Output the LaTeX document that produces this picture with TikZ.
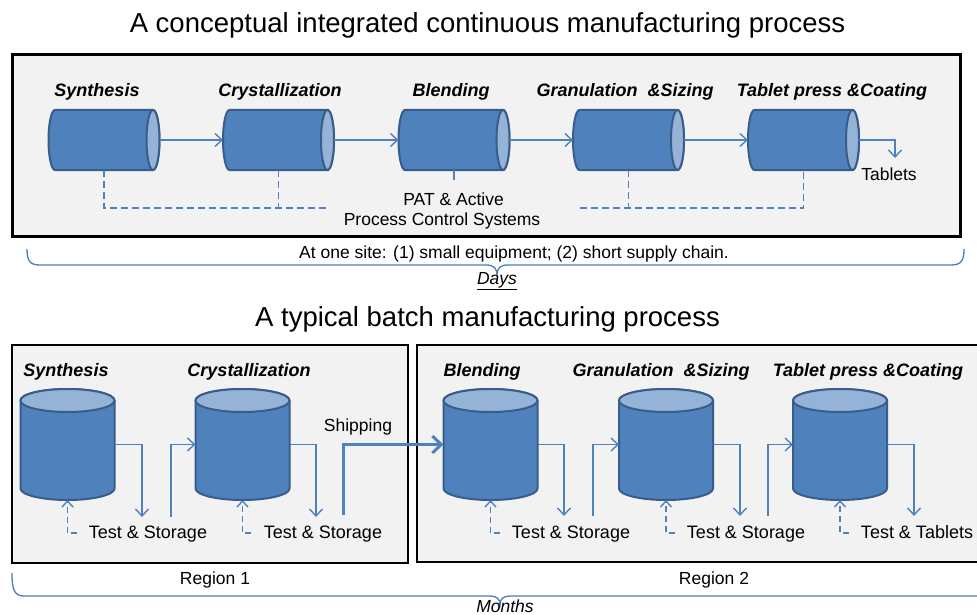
\documentclass[tikz,border=0pt]{standalone}
\usepackage{fontspec}
\setmainfont{Liberation Sans}
\usetikzlibrary{arrows.meta}
\definecolor{cylbody}{HTML}{4F81BD}
\definecolor{cylline}{HTML}{385D8A}
\definecolor{cylface}{HTML}{95B3D7}
\definecolor{flowc}{HTML}{4F81BD}
\definecolor{bracec}{HTML}{4A7EBB}
\definecolor{boxfill}{HTML}{F2F2F2}
\tikzset{
  cylbox/.style={inner sep=0pt, outer sep=0pt, minimum width=#1},
  cylbody/.style={fill=cylbody, draw=cylline, line width=2pt, line join=round},
  cylface/.style={fill=cylface, draw=cylline, line width=2pt},
  flow/.style={draw=flowc, line width=1.4pt, -{Straight Barb[length=7pt,width=13pt,line width=1.4pt]}},
  plainline/.style={draw=flowc, line width=1.4pt},
  dline/.style={draw=flowc, line width=1.4pt, dash pattern=on 7pt off 4pt},
  dflow/.style={draw=flowc, line width=1.4pt, dash pattern=on 6pt off 4pt, -{Straight Barb[length=6pt,width=11pt,line width=1.4pt]}},
  ship/.style={draw=flowc, line width=3pt, -{Straight Barb[length=9pt,width=17pt,line width=3pt]}},
  brace/.style={draw=bracec, line width=1.3pt},
  lab/.style={font=\fontsize{18}{22}\selectfont\bfseries\itshape, inner sep=0pt},
  txt/.style={font=\fontsize{18}{22}\selectfont, inner sep=0pt},
  stxt/.style={font=\fontsize{17.5}{21}\selectfont, inner sep=0pt},
  title/.style={font=\fontsize{27.5}{32}\selectfont, inner sep=0pt},
}
\newcommand\hcyl[3]{%
  \node[cylbox=111pt, minimum height=60pt] (#1) at (#2,#3) {};
  \path[cylbody] ([xshift=6.5pt]#1.north west) -- ([xshift=-6.5pt]#1.north east)
     arc[start angle=90,end angle=-90,x radius=6.5pt,y radius=30pt]
     -- ([xshift=6.5pt]#1.south west)
     arc[start angle=270,end angle=90,x radius=6.5pt,y radius=30pt] -- cycle;
  \path[cylface] ([xshift=-6.5pt]#1.east) ellipse[x radius=6.5pt,y radius=30pt];
}
\newcommand\vcyl[3]{%
  \node[cylbox=94pt, minimum height=111pt] (#1) at (#2,#3) {};
  \path[cylbody] ([yshift=-11.5pt]#1.north west) -- ([yshift=11.5pt]#1.south west)
     arc[start angle=180,end angle=360,x radius=47pt,y radius=11.5pt]
     -- ([yshift=-11.5pt]#1.north east)
     arc[start angle=0,end angle=180,x radius=47pt,y radius=11.5pt] -- cycle;
  \path[cylface] ([yshift=-11.5pt]#1.north) ellipse[x radius=47pt,y radius=11.5pt];
}
\begin{document}
\begin{tikzpicture}[x=1pt,y=-1pt]
\useasboundingbox[fill=white] (0,0) rectangle (977,615);

% ---------- top: continuous ----------
\node[title] (t1) at (487.5,25) {A conceptual integrated continuous manufacturing process};
\draw[line width=3pt, fill=boxfill] (12,55) rectangle (960,236);

\node[lab] (l1) at (97,92) {Synthesis};
\node[lab] (l2) at (280,92) {Crystallization};
\node[lab] (l3) at (451,92) {Blending};
\node[lab] (l4) at (625,92) {Granulation\ \ \&Sizing};
\node[lab] (l5) at (832,92) {Tablet\ press \&Coating};

\hcyl{c1}{104}{140}
\hcyl{c2}{278.5}{140}
\hcyl{c3}{454}{140}
\hcyl{c4}{628.5}{140}
\hcyl{c5}{803.5}{140}

\draw[flow] (c1.east) -- (c2.west);
\draw[flow] (c2.east) -- (c3.west);
\draw[flow] (c3.east) -- (c4.west);
\draw[flow] (c4.east) -- (c5.west);
\coordinate (tabend) at (895,158);
\draw[flow] (c5.east) -| (tabend);
\node[stxt] (tabl) at (889,174) {Tablets};

\coordinate (pl) at (328,208);
\coordinate (pr) at (580,208);
\draw[dline] (c1.south) |- (pl);
\draw[dline] (c2.south) -- (c2.south |- pl);
\draw[dline] (pr) -| (c5.south);
\draw[dline] (c4.south) -- (c4.south |- pr);
\draw[plainline] (c3.south) -- ++(0,10);
\node[stxt] (pat1) at (453.5,199) {PAT \& Active};
\node[stxt] (pat2) at (442,221) {Process Control Systems};

% brace top
\node[stxt] (site) at (514,254) {At one site: (1) small equipment; (2) short supply chain.};
\draw[brace] (27,249) .. controls (27,261) and (30,265) .. (40,265) -- (486,265)
  .. controls (494,265) and (497,268) .. (497,276)
  .. controls (497,268) and (500,265) .. (508,265) -- (951,265)
  .. controls (961,265) and (964,261) .. (964,249);
\node[stxt] (days) at (497,281) {\itshape\underline{Days}};

% ---------- bottom: batch ----------
\node[title] (t2) at (487.5,319) {A typical batch manufacturing process};
\draw[line width=2.5pt, fill=boxfill] (12,345) rectangle (408,563);
\fill[boxfill] (417,345) rectangle (977,562);
\draw[line width=2.5pt] (977,345) -- (417,345) -- (417,562) -- (977,562);

\node[lab] (m1) at (66,372) {Synthesis};
\node[lab] (m2) at (249,372) {Crystallization};
\node[lab] (m3) at (482,372) {Blending};
\node[lab] (m4) at (661,372) {Granulation\ \ \&Sizing};
\node[lab] (m5) at (868,372) {Tablet\ press \&Coating};

\vcyl{s1}{67.5}{444.5}
\vcyl{s2}{242.5}{444.5}
\vcyl{s3}{490.5}{444.5}
\vcyl{s4}{666}{444.5}
\vcyl{s5}{840}{444.5}

\node[txt] (ts1) at (148,534) {Test \& Storage};
\node[txt] (ts2) at (323,534) {Test \& Storage};
\node[txt] (ts3) at (571,534) {Test \& Storage};
\node[txt] (ts4) at (746,534) {Test \& Storage};
\node[txt] (ts5) at (917,532) {Test \& Tablets};
\node[stxt] (shp) at (358,427) {Shipping};

\coordinate (a1) at (142,517); \coordinate (u1) at (171,517);
\coordinate (a2) at (316,517); \coordinate (u2) at (343,515);
\coordinate (a3) at (564,516); \coordinate (u3) at (593,516);
\coordinate (a4) at (740,516); \coordinate (u4) at (768,516);
\coordinate (a5) at (914,516);

\draw[flow] (s1.east) -| (a1);
\draw[flow] (u1) |- (s2.west);
\draw[flow] (s2.east) -| (a2);
\draw[ship] (u2) |- (s3.west);
\draw[flow] (s3.east) -| (a3);
\draw[flow] (u3) |- (s4.west);
\draw[flow] (s4.east) -| (a4);
\draw[flow] (u4) |- (s5.west);
\draw[flow] (s5.east) -| (a5);

\coordinate (d1) at (77,533);
\coordinate (d2) at (251,533);
\coordinate (d3) at (500,533);
\coordinate (d4) at (675,533);
\coordinate (d5) at (849,533);
\draw[dflow] (d1) -| (s1.south);
\draw[dflow] (d2) -| (s2.south);
\draw[dflow] (d3) -| (s3.south);
\draw[dflow] (d4) -| (s4.south);
\draw[dflow] (d5) -| (s5.south);

\node[stxt] (r1) at (215,580) {Region 1};
\node[stxt] (r2) at (714,580) {Region 2};
\draw[brace] (12,573) .. controls (12,589) and (14,596) .. (24,596) -- (490,596)
  .. controls (497,596) and (500,599) .. (500,605)
  .. controls (500,599) and (503,596) .. (510,596) -- (977,596);
\node[stxt] (mon) at (505,606) {\itshape Months};
\end{tikzpicture}
\end{document}
